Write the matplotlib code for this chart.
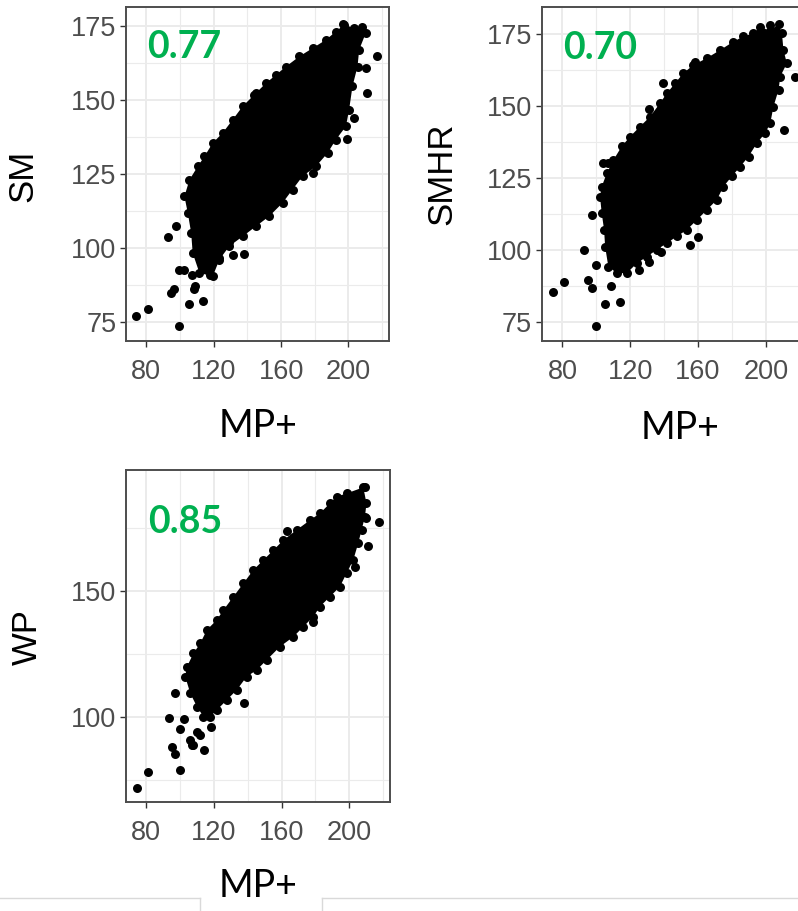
import matplotlib
matplotlib.use("Agg")
import matplotlib.pyplot as plt
from matplotlib.lines import Line2D

# ---- data ----------------------------------------------------------------
# outline of the dense cloud (MP+ vs score), then the isolated points

sm_cloud_x = [119.4, 111.5, 107.5, 106.6, 104.6, 102.6, 105.6, 110.5, 114.5, 119.4,
              125.3, 131.3, 137.2, 144.1, 151.0, 157.0, 162.9, 170.8, 178.7, 186.6,
              192.5, 197.5, 203.4, 208.3, 210.3, 206.4, 205.4, 202.4, 200.4, 198.5,
              192.5, 187.6, 180.7, 172.8, 166.8, 160.9, 153.0, 145.1, 137.2, 129.3, 123.4]
sm_cloud_y = [90.4, 91.6, 98.3, 105.1, 111.8, 117.4, 123.0, 127.5, 130.9, 135.4,
              138.8, 143.3, 147.8, 151.7, 155.6, 158.4, 161.2, 164.6, 167.4, 170.2,
              173.0, 175.3, 174.2, 174.7, 172.5, 166.9, 161.2, 154.5, 146.6, 141.0,
              136.5, 132.0, 127.5, 124.2, 119.7, 115.2, 110.7, 107.3, 103.9, 100.6, 96.1]
sm_out_x = [74.0, 80.9, 99.6, 92.7, 97.7, 94.7, 96.7, 105.2, 108.5, 109.1, 113.9, 99.6,
            102.6, 107.2, 117.8, 123.4, 131.3, 138.2, 129.3, 217.2, 210.3, 211.3, 203.4,
            199.4, 178.7, 145.1, 196.5]
sm_out_y = [77.0, 79.4, 73.8, 103.7, 107.3, 84.8, 86.0, 81.2, 86.0, 87.2, 82.0, 92.7,
            92.7, 91.0, 91.0, 96.6, 97.5, 98.1, 101.9, 164.8, 160.7, 152.2, 143.8,
            136.7, 125.3, 152.2, 175.6]

smhr_cloud_x = [107.1, 105.2, 104.6, 103.2, 102.2, 103.2, 106.2, 110.1, 115.0, 119.9,
                125.8, 131.7, 137.6, 141.6, 146.5, 151.4, 157.3, 165.2, 173.1, 180.9,
                186.8, 192.7, 196.7, 202.6, 207.5, 209.5, 210.4, 212.4, 208.5, 207.5,
                204.5, 202.6, 199.6, 194.7, 189.8, 184.9, 179.9, 175.0, 171.1, 165.2,
                159.3, 153.4, 147.5, 141.6, 135.7, 129.8, 123.9, 118.0, 112.1]
smhr_cloud_y = [94.3, 101.2, 107.0, 112.8, 118.5, 122.0, 126.6, 131.2, 135.9, 139.3,
                142.8, 146.2, 150.9, 154.3, 157.8, 161.3, 164.1, 166.5, 169.3, 172.2,
                174.0, 175.1, 177.2, 176.0, 178.3, 175.1, 169.3, 164.7, 160.1, 155.5,
                149.7, 143.9, 140.5, 137.0, 132.4, 128.9, 125.5, 122.0, 117.4, 113.9,
                110.4, 107.0, 104.7, 102.4, 100.1, 97.7, 95.4, 92.0, 92.0]
smhr_out_x = [74.7, 81.0, 93.0, 97.3, 99.9, 95.3, 97.3, 99.9, 105.2, 114.0, 108.5, 124.9,
              131.3, 138.0, 155.0, 159.9, 210.8, 217.3, 131.3, 139.6, 158.3, 104.2,
              107.1, 202.6]
smhr_out_y = [85.3, 89.1, 100.1, 112.2, 94.9, 89.7, 86.8, 73.7, 81.4, 81.9, 87.4, 93.1,
              96.0, 99.2, 101.8, 104.4, 141.6, 160.1, 148.8, 157.8, 165.3, 130.1,
              130.1, 178.0]

wp_cloud_x = [113.8, 109.9, 106.0, 103.0, 104.0, 107.9, 111.9, 115.8, 121.7, 125.6,
              131.5, 137.4, 143.3, 149.3, 155.2, 161.1, 168.9, 176.8, 182.7, 188.6,
              192.5, 198.4, 208.3, 210.2, 209.3, 207.3, 205.3, 202.4, 198.4, 194.5,
              188.6, 182.7, 178.8, 172.9, 167.0, 159.1, 151.2, 145.3, 139.4, 133.5,
              127.6, 121.7, 117.8]
wp_cloud_y = [100.0, 104.0, 109.3, 115.9, 119.8, 125.1, 129.1, 134.4, 138.4, 142.3,
              147.6, 152.9, 158.2, 162.2, 166.1, 170.1, 174.1, 178.0, 180.7, 184.7,
              187.3, 188.6, 191.0, 184.7, 179.4, 174.1, 168.8, 162.2, 156.9, 151.6,
              147.6, 143.7, 139.7, 135.7, 131.7, 127.8, 122.5, 118.5, 115.9, 110.6,
              106.6, 102.6, 100.0]
wp_out_x = [74.5, 81.0, 100.1, 93.2, 97.1, 102.4, 95.1, 97.1, 100.1, 106.0, 107.0, 109.9,
            111.9, 114.2, 118.2, 107.9, 138.0, 163.0, 217.7, 211.2, 203.4, 209.3, 178.8,
            210.2]
wp_out_y = [71.6, 78.2, 78.8, 99.6, 109.3, 98.9, 88.1, 85.1, 95.0, 90.7, 88.8, 94.0,
            92.7, 86.8, 96.0, 88.8, 105.3, 173.8, 177.4, 167.7, 159.5, 191.3, 137.4,
            178.7]

correlations = ["0.77", "0.70", "0.85"]
y_names = ["SM", "SMHR", "WP"]
x_name = "MP+"

W, H = 798, 911
fig = plt.figure(figsize=(W / 100, H / 100), dpi=100)


def px(x, y):
    return x / W, 1 - y / H


def panel(rect, cx, cy, ox, oy, xlim, ylim, yticks, yminor, label, lab_xy):
    ax = fig.add_axes(rect)
    ax.set_axisbelow(True)
    ax.fill(cx, cy, color="black", lw=0, zorder=2)
    ax.scatter(cx + ox, cy + oy, s=42, c="black", lw=0, zorder=3)
    ax.set_xlim(*xlim)
    ax.set_ylim(*ylim)
    ax.set_xticks([80, 120, 160, 200])
    ax.set_xticks([100, 140, 180, 220], minor=True)
    ax.set_yticks(yticks)
    ax.set_yticks(yminor, minor=True)
    ax.grid(True, which="major", color="#EBEBEB", lw=1.4)
    ax.grid(True, which="minor", color="#EBEBEB", lw=0.8)
    ax.tick_params(which="major", length=4, width=1, color="#333333",
                   labelsize=19.5, labelcolor="#4D4D4D")
    ax.tick_params(which="minor", length=0)
    ax.tick_params(axis="x", pad=9)
    ax.tick_params(axis="y", pad=3)
    for t in ax.get_xticklabels() + ax.get_yticklabels():
        t.set_family("Liberation Sans")
    for s in ax.spines.values():
        s.set_color("#4D4D4D")
        s.set_linewidth(1.4)
    ax.text(lab_xy[0], lab_xy[1], label, ha="left", va="center", fontsize=27,
            fontweight="bold", color="#00B050", family=["Lato", "DejaVu Sans"],
            zorder=4)
    return ax


y5 = [75, 100, 125, 150, 175]
y5m = [87.5, 112.5, 137.5, 162.5]

panel([126 / W, 1 - 341 / H, 263 / W, 334 / H], sm_cloud_x, sm_cloud_y,
      sm_out_x, sm_out_y, (67.9, 224.1), (68.6, 181.3), y5, y5m,
      correlations[0], (80.6, 167.7))
panel([541.7 / W, 1 - 340.7 / H, 265 / W, 333.4 / H], smhr_cloud_x, smhr_cloud_y,
      smhr_out_x, smhr_out_y, (67.8, 224.1), (68.6, 184.1), y5, y5m,
      correlations[1], (80.4, 170.0))
panel([126 / W, 1 - 802.3 / H, 264 / W, 332.3 / H], wp_cloud_x, wp_cloud_y,
      wp_out_x, wp_out_y, (68.0, 224.1), (66.0, 197.9), [100, 150], [75, 125, 175],
      correlations[2], (81.2, 177.2))

# axis titles
for name, (x, y) in zip(y_names, [(23, 176), (442, 174), (27, 637)]):
    fig.text(*px(x, y), name, rotation=90, ha="center", va="center",
             fontsize=25, color="black", family="Liberation Sans")
for (x, y) in [(258, 426), (680, 428), (258, 886)]:
    fig.text(*px(x, y), x_name, ha="center", va="center", fontsize=27,
             color="black", family=["Lato", "DejaVu Sans"])

# faint frame lines at the bottom edge
lc = "#D9D9D9"
for xs, ys in [([0, 200], [898, 898]), ([200, 200], [898, 911]),
               ([322, 322], [898, 911]), ([322, 798], [898, 898])]:
    fig.add_artist(Line2D([v / W for v in xs], [1 - v / H for v in ys],
                          transform=fig.transFigure, color=lc, lw=1))

plt.savefig("out.png", dpi=100)
